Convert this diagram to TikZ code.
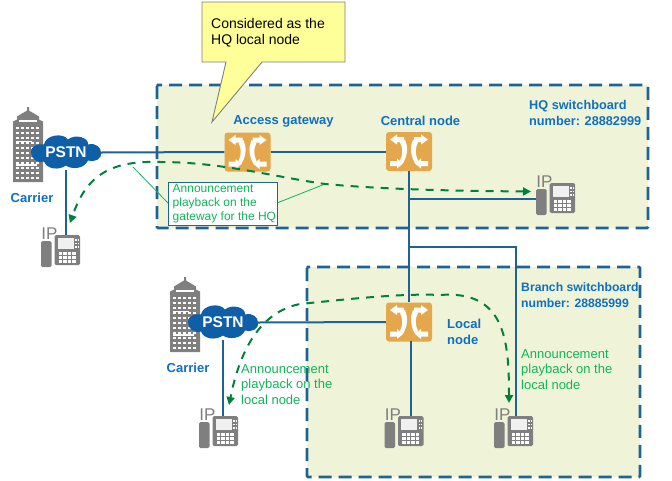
\documentclass[tikz,border=0pt]{standalone}
\usepackage{fontspec}
\setmainfont{Liberation Sans}
\usetikzlibrary{arrows.meta}
\definecolor{zone}{HTML}{EFF4D8}
\definecolor{zoneb}{HTML}{1F6394}
\definecolor{lnk}{HTML}{1F6394}
\definecolor{lbl}{HTML}{0F6FC0}
\definecolor{grn}{HTML}{00803C}
\definecolor{ann}{HTML}{13B35C}
\definecolor{sw}{HTML}{E5A74C}
\definecolor{gr}{HTML}{7F7F7F}
\definecolor{cld}{HTML}{0F5FA8}
\definecolor{callf}{HTML}{FFFF99}
\tikzset{
 zonebox/.style={draw=zoneb,fill=zone,line width=2.8pt,dash pattern=on 13pt off 7pt,rounded corners=1pt},
 link/.style={draw=lnk,line width=2pt},
 flow/.style={draw=grn,line width=2pt,dash pattern=on 8pt off 7pt,{Triangle[length=8pt,width=8pt]}-{Triangle[length=8pt,width=8pt]}},
 lab/.style={text=lbl,font=\fontsize{13}{16}\selectfont\bfseries,align=left,inner sep=0pt},
 annlab/.style={text=ann,font=\fontsize{13}{15.5}\selectfont,align=left,inner sep=0pt},
 swnode/.style={fill=sw,rounded corners=3pt,minimum width=46pt,minimum height=39pt,inner sep=0pt},
 phone/.style={minimum width=39pt,minimum height=40pt,inner sep=0pt},
 cloudn/.style={text=white,font=\fontsize{15.5}{17}\selectfont\bfseries,inner sep=0pt,minimum width=70pt,minimum height=35pt},
 tag/.style={draw=ann,line width=0.8pt}
}
\newcommand{\swicon}[1]{%
 \begin{scope}[shift={(#1)}]
 \fill[white] (-4,-12) .. controls (-1,-5) and (-1,3) .. (-6,12) -- (-9,9) .. controls (-6,3) and (-6,-4) .. (-9,-9) -- cycle;
 \fill[white] (4,-12) .. controls (1,-5) and (1,3) .. (6,12) -- (9,9) .. controls (6,3) and (6,-4) .. (9,-9) -- cycle;
 \fill[white] (-19,-12) -- (-12,-17) -- (-12,-14.5) -- (-5,-14.5) -- (-5,-9.5) -- (-12,-9.5) -- (-12,-7) -- cycle;
 \fill[white] (19,-12) -- (12,-17) -- (12,-14.5) -- (5,-14.5) -- (5,-9.5) -- (12,-9.5) -- (12,-7) -- cycle;
 \fill[white] (-6,12) -- (-12,17) -- (-12,14.5) -- (-19,14.5) -- (-19,9.5) -- (-12,9.5) -- (-12,7) -- cycle;
 \fill[white] (6,12) -- (12,17) -- (12,14.5) -- (19,14.5) -- (19,9.5) -- (12,9.5) -- (12,7) -- cycle;
 \end{scope}}
\newcommand{\phoneicon}[1]{%
 \begin{scope}[shift={(#1)}]
 \node[text=gr,font=\fontsize{17}{17}\selectfont,inner sep=0pt] at (-11,-16.5) {IP};
 \fill[gr,rounded corners=1.5pt] (-19.5,-9) rectangle (-9,17);
 \fill[gr,rounded corners=1.5pt] (-6,-15) rectangle (19.5,15);
 \fill[white!88!gr] (-3,-12) rectangle (13,-1);
 \foreach \a in {0,1,2,3}{\foreach \b in {0,1,2}{\fill[white] (-2+\a*4.6,2+\b*4) rectangle ++(3.6,3);}}
 \foreach \b in {0,1,2}{\fill[white] (14.5,-11+\b*3.5) rectangle ++(1.6,1.6);\fill[white] (17,-11+\b*3.5) rectangle ++(1.3,1.6);}
 \end{scope}}
\newcommand{\bldicon}[1]{%
 \begin{scope}[shift={(#1)}]
 \fill[gr] (-15,37.5) -- (-15,-23) -- (-11,-25) -- (-11,-28) -- (-1,-34) -- (-1,-37.5) -- (1,-37.5) -- (1,-34) -- (11,-28) -- (11,-25) -- (15,-23) -- (15,37.5) -- cycle;
 \foreach \r in {-18,-13,-8,-3,2,7,12,17,22,27,32}{\foreach \c in {-12,-7,-2,3,8}{\fill[white] (\c,\r) rectangle ++(3.4,2.4);}}
 \fill[white] (-9,-25) rectangle (9,-23);
 \fill[white] (-12,-4) rectangle (4,-2.6);
 \fill[white] (-12,21) rectangle (9,19.6);
 \end{scope}}
\newcommand{\cloudicon}[1]{%
 \begin{scope}[shift={(#1)}]
 \fill[cld] (-35,0) .. controls (-35,-7) and (-28,-9) .. (-22,-8)
  .. controls (-20,-18) and (-3,-20) .. (2,-13)
  .. controls (9,-19) and (23,-15) .. (22,-8)
  .. controls (30,-10) and (35,-5) .. (35,0)
  .. controls (36,7) and (28,10) .. (22,8)
  .. controls (18,17) and (5,17) .. (0,13)
  .. controls (-7,18) and (-19,17) .. (-22,9)
  .. controls (-29,11) and (-35,6) .. (-35,0) -- cycle;
 \end{scope}}
\begin{document}
\begin{tikzpicture}[x=1pt,y=-1pt]
\useasboundingbox (0,0) rectangle (672,480);
% zones
\draw[zonebox] (157,85) rectangle (648,228);
\draw[zonebox] (307,267) rectangle (640,477);
% anchors
\node[swnode] (ag) at (247.5,152) {};
\node[swnode] (cn) at (409,151.5) {};
\node[swnode] (ln) at (409,322) {};
\node[phone] (p1) at (60.5,250) {};
\node[phone] (p2) at (555.5,198) {};
\node[phone] (p3) at (218.5,431) {};
\node[phone] (p4) at (404,431) {};
\node[phone] (p5) at (513.5,431) {};
\coordinate (b1) at (409,199);
\coordinate (b2) at (409,247);
\coordinate (b3) at (516,247);
% links
\node[cloudn] (c1) at (66,152.5) {};
\node[cloudn] (c2) at (223,322.5) {};
\draw[link] (c1.east) -- (ag.west);
\draw[link] (ag.east) -- (ag.east -| cn.west);
\draw[link] (cn.south) -- (ln.north);
\draw[link] (b1) -- (p2.west |- b1);
\draw[link] (b2) -- (b3) -- (516,417);
\draw[link] (c2.east) -- (ln.west);
\draw[link] (411,341) -- (411,417);
\draw[link] (c1.south) -- (66,236);
\draw[link] (c2.south) -- (223,417);
% icons
\bldicon{28,144.5}
\bldicon{185,314.5}
\cloudicon{66,152.5}
\cloudicon{223,322.5}
\node[cloudn] at (c1) {PSTN};
\node[cloudn] at (c2) {PSTN};
\swicon{247.5,152}
\swicon{409,151.5}
\swicon{409,322}
\phoneicon{60.5,250}
\phoneicon{555.5,198}
\phoneicon{218.5,431}
\phoneicon{404,431}
\phoneicon{513.5,431}
% flows
\draw[tag] (133,167) -- (168,203);
\draw[tag] (277,203) -- (325,184);
\draw[flow] (531,191.5) .. controls (470,191) and (390,190) .. (325,184)
  .. controls (270,176) and (220,162) .. (160,162)
  .. controls (105,160) and (85,180) .. (70,223);
\draw[flow] (509,403) .. controls (509,340) and (505,290) .. (440,295)
  .. controls (400,293) and (340,300) .. (300,304)
  .. controls (260,312) and (240,350) .. (229,405);
% callout
\draw[draw=gr,fill=callf,line width=0.9pt] (202,2) -- (345,2) -- (345,62) -- (262,62) -- (212,122) -- (226,62) -- (202,62) -- cycle;
\node[font=\fontsize{14}{16.5}\selectfont,align=left,inner sep=0pt,anchor=north west] (callt) at (211,18) {Considered as the\\HQ local node};
% annotation box
\node[draw=lnk,fill=white,line width=0.9pt,minimum width=109pt,minimum height=43pt,inner sep=0pt] (abox) at (222.5,203.5) {};
\node[annlab,anchor=west,font=\fontsize{12}{14}\selectfont] (at) at (172.5,204) {Announcement\\playback on the\\gateway for the HQ};
% labels
\node[lab] (l1) at (283.5,121) {Access gateway};
\node[lab] (l2) at (420.5,121) {Central node};
\node[lab,anchor=north west,font=\fontsize{12.7}{16}\selectfont\bfseries] (l3) at (529,100) {HQ switchboard\\number: 28882999};
\node[lab,anchor=north west,font=\fontsize{12.2}{16}\selectfont\bfseries] (l4) at (521,282) {Branch switchboard\\number: 28885999};
\node[lab,anchor=north west] (l5) at (447,319) {Local\\node};
\node[lab] (l6) at (32,198) {Carrier};
\node[lab] (l7) at (188,368) {Carrier};
\node[annlab,anchor=north west] (a2) at (241,364) {Announcement\\playback on the\\local node};
\node[annlab,anchor=north west] (a3) at (521,349) {Announcement\\playback on the\\local node};
\end{tikzpicture}
\end{document}
